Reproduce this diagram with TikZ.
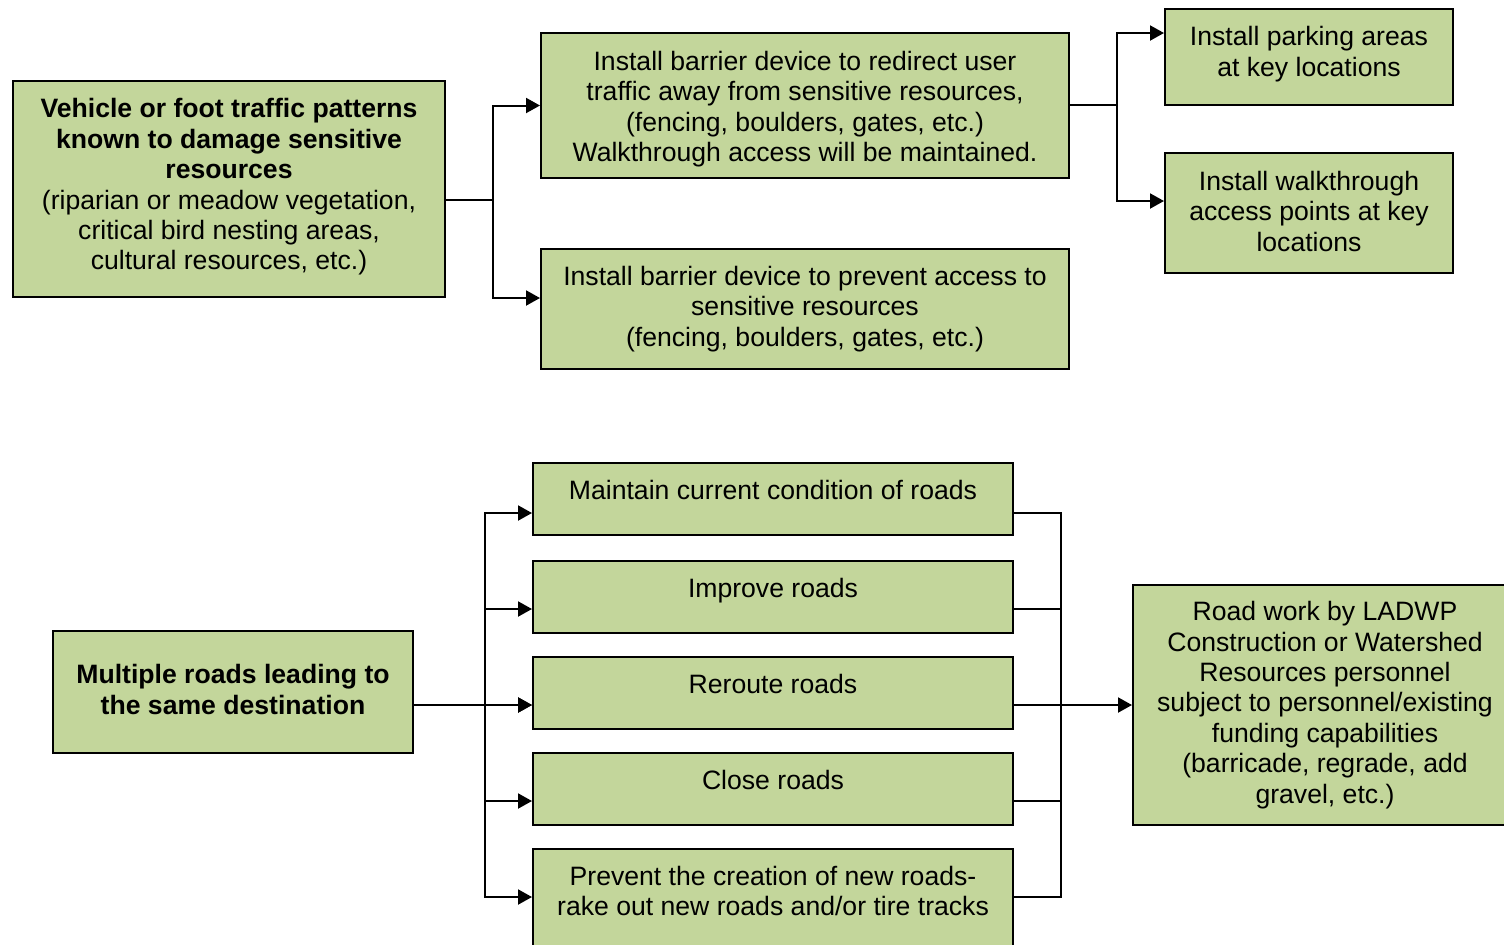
\documentclass[tikz,border=0pt]{standalone}
\usepackage{fontspec}
\setmainfont{Liberation Sans}
\usetikzlibrary{positioning,arrows.meta}
\definecolor{boxgreen}{HTML}{C3D69B}
\tikzset{
  box/.style={draw,fill=boxgreen,line width=1pt,align=center,inner sep=0pt,
    font=\fontsize{13.3}{15.2}\selectfont},
  roadbox/.style={box,minimum width=240pt,text height=18pt,text depth=18pt},
  arr/.style={-{Triangle[length=7pt,width=7.5pt]},line width=1pt},
  link/.style={line width=1pt},
}

\begin{document}
\begin{tikzpicture}[x=0.5pt,y=-0.5pt]
\clip (0,0) rectangle (1504,944);
\fill[white] (0,0) rectangle (1504,944);

% upper chart
\node[box,minimum width=216pt,minimum height=108pt,text depth=4.8pt] (traffic) at (229,189)
  {\textbf{Vehicle or foot traffic patterns}\\\textbf{known to damage sensitive}\\\textbf{resources}\\
   (riparian or meadow vegetation,\\critical bird nesting areas,\\cultural resources, etc.)};
\node[box,minimum width=264pt,minimum height=72.5pt] (redirect) at (805,105.5)
  {\rule{0pt}{13.2pt}Install barrier device to redirect user\\traffic away from sensitive resources,\\(fencing, boulders, gates, etc.)\\Walkthrough access will be maintained.};
\node[box,minimum width=264pt,minimum height=60pt] (prevent) at (805,309)
  {Install barrier device to prevent access to\\sensitive resources\\(fencing, boulders, gates, etc.)};
\node[box,minimum width=144pt,minimum height=48pt,text depth=5.8pt] (parking) at (1309,57)
  {Install parking areas\\at key locations};
\node[box,minimum width=144pt,minimum height=60pt,text depth=2pt] (walk) at (1309,213)
  {Install walkthrough\\access points at key\\locations};

\coordinate (ja) at (493,200);
\coordinate (jb) at (1117,105);
\draw[link] (traffic.east |- ja) -- (ja);
\draw[arr] (ja) |- (redirect.west);
\draw[arr] (ja) |- (prevent.west |- traffic.south);
\draw[link] (redirect.east |- jb) -- (jb);
\draw[arr] (jb) |- (parking.west |- 0,33);
\draw[arr] (jb) |- (walk.west |- 0,201);

% lower chart
\node[box,minimum width=180pt,minimum height=61pt,text depth=2.5pt] (roads) at (233,692)
  {\textbf{Multiple roads leading to}\\\textbf{the same destination}};
\node[roadbox] (maintain) at (773,499) {Maintain current condition of roads};
\node[roadbox] (improve) at (773,597) {Improve roads};
\node[roadbox] (reroute) at (773,693) {Reroute roads};
\node[roadbox] (close) at (773,789) {Close roads};
\node[roadbox,text height=33.2pt,text depth=16.8pt] (newroads) at (773,899)
  {Prevent the creation of new roads-\\rake out new roads and/or tire tracks};
\node[box,minimum width=192pt,minimum height=120pt] (roadwork) at (1325,705)
  {Road work by LADWP\\Construction or Watershed\\Resources personnel\\subject to personnel/existing\\funding capabilities\\(barricade, regrade, add\\gravel, etc.)};

\coordinate (jl) at (485,705);
\coordinate (jr) at (1061,705);
\path ([yshift=-7pt]maintain.west) coordinate (first)
      ([yshift=1pt]newroads.west) coordinate (last);
\foreach \n/\s in {maintain/-7pt,improve/-6pt,reroute/-6pt,close/-6pt,newroads/1pt} {
  \draw[arr] ([yshift=\s]\n.west) ++(-48,0) -- ([yshift=\s]\n.west);
  \draw[link] ([yshift=\s]\n.east) -- ++(48,0);
}
\draw[link] (jl |- first) -- (jl |- last);
\draw[link] (jr |- first) -- (jr |- last);
\draw[arr] (roads.east |- jl) -- (reroute.west |- jl);
\draw[arr] (jr) -- (roadwork.west);
\end{tikzpicture}
\end{document}
